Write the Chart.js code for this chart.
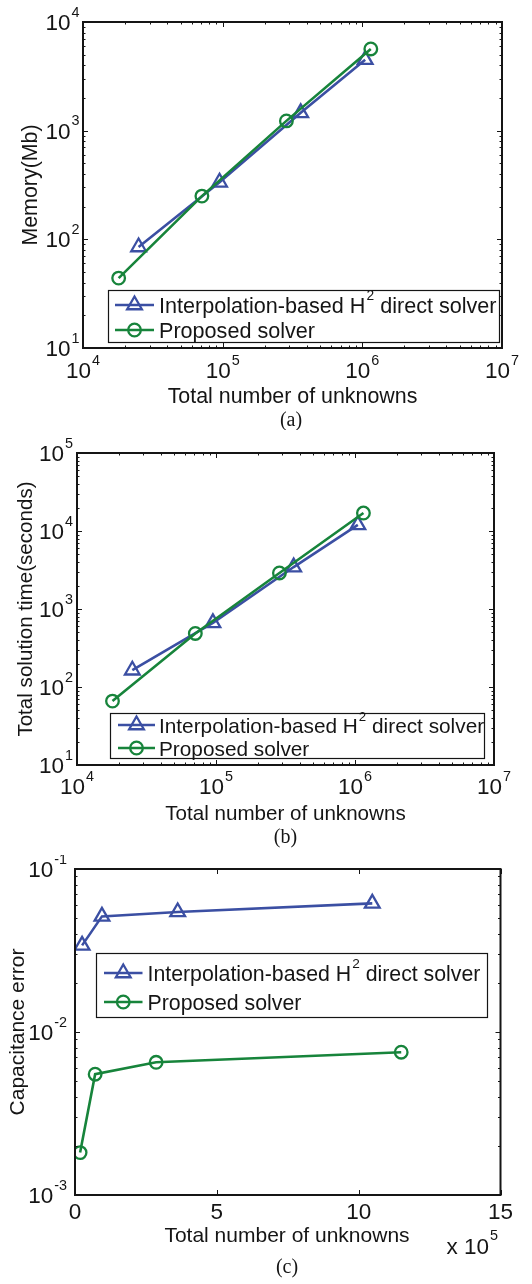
<!DOCTYPE html>
<html>
<head>
<meta charset="utf-8">
<script src="https://cdn.jsdelivr.net/npm/chart.js@4.4.1/dist/chart.umd.min.js"></script>
<style>
  html, body { margin: 0; padding: 0; background: #ffffff; }
  #wrap { position: relative; width: 532px; height: 1284px; }
  #wrap canvas { position: absolute; left: 0; }
</style>
</head>
<body>
<div id="wrap">
  <canvas id="memChart" width="532" height="430" style="top:0px"></canvas>
  <canvas id="timeChart" width="532" height="425" style="top:430px"></canvas>
  <canvas id="errChart" width="532" height="429" style="top:855px"></canvas>
</div>
<script>
// ---- data -------------------------------------------------------------
// Total number of unknowns of each test case
const unknownsH2 = [25000, 95000, 362000, 1048000];
const unknownsProposed = [18000, 71000, 286000, 1150000];

// Memory (Mb)
const memoryH2 = [85, 335, 1460, 4500];
const memoryProposed = [44, 250, 1230, 5650];

// Total solution time (seconds)
const timeH2 = [164, 665, 3450, 12000];
const timeProposed = [66, 486, 2900, 17000];

// Capacitance error
const errorH2 = [0.034, 0.0512, 0.0545, 0.0615];
const errorProposed = [0.00182, 0.00551, 0.00652, 0.00752];

const seriesNames = ['Interpolation-based H\u00B2 direct solver', 'Proposed solver'];

// Tick labels ("a^b" is drawn with b as a superscript)
const unknownsLogTickLabels = ['10^4', '10^5', '10^6', '10^7'];
const memoryTickLabels = ['10^1', '10^2', '10^3', '10^4'];
const timeTickLabels = ['10^1', '10^2', '10^3', '10^4', '10^5'];
const errorTickLabels = ['10^-3', '10^-2', '10^-1'];
const unknownsLinearTickLabels = ['0', '5', '10', '15'];
const unknownsLinearScaleLabel = 'x 10^5';
const unknownsLinearScale = 1e5;

// ---- styling ----------------------------------------------------------
const SANS = '"Liberation Sans", Arial, Helvetica, sans-serif';
const SERIF = '"Liberation Serif", "Times New Roman", serif';
const INK = '#151515';
const BLUE = '#3b4fa3';
const GREEN = '#17843b';
const TICK_FONT = 22.5;

function logValue(label) {
  const parts = label.split('^');
  return Math.pow(Number(parts[0]), Number(parts[1]));
}

function minorLogValues(decades) {
  const out = [];
  for (let i = 0; i < decades.length - 1; i++) {
    for (let m = 2; m <= 9; m++) out.push(decades[i] * m);
  }
  return out;
}

// draws "base^exp" with a raised, smaller exponent; y is the base's baseline
function drawPower(ctx, label, x, y, align, size) {
  const idx = label.indexOf('^');
  const base = idx < 0 ? label : label.slice(0, idx);
  const exp = idx < 0 ? null : label.slice(idx + 1);
  const expSize = size * 0.64;
  ctx.font = size + 'px ' + SANS;
  const wb = ctx.measureText(base).width;
  let we = 0;
  if (exp !== null) {
    ctx.font = expSize + 'px ' + SANS;
    we = ctx.measureText(exp).width + 1;
  }
  const w = wb + we;
  const x0 = align === 'right' ? x - w : (align === 'center' ? x - w / 2 : x);
  ctx.textAlign = 'left';
  ctx.textBaseline = 'alphabetic';
  ctx.fillStyle = INK;
  ctx.font = size + 'px ' + SANS;
  ctx.fillText(base, x0, y);
  if (exp !== null) {
    ctx.font = expSize + 'px ' + SANS;
    ctx.fillText(exp, x0 + wb + 1, y - size * 0.6);
  }
}

function drawMarker(ctx, style, x, y, r) {
  ctx.beginPath();
  if (style === 'triangle') {
    const a = 2 * Math.PI / 3;
    ctx.moveTo(x, y - r);
    ctx.lineTo(x + Math.sin(a) * r, y - Math.cos(a) * r);
    ctx.lineTo(x + Math.sin(2 * a) * r, y - Math.cos(2 * a) * r);
    ctx.closePath();
  } else {
    ctx.arc(x, y, r, 0, Math.PI * 2);
  }
  ctx.stroke();
}

// Box, inward ticks, tick labels, titles and legend drawn around the plot area
function axesPlugin(spec) {
  return {
    id: 'boxedAxes',
    afterDatasetsDraw(chart) {
      const ctx = chart.ctx;
      const xs = chart.scales.x, ys = chart.scales.y;
      const a = chart.chartArea;
      const top = spec.top;
      const lf = spec.legendFont;
      const tf = spec.titleFont;
      ctx.save();

      // legend
      const lg = spec.legend;
      ctx.fillStyle = '#ffffff';
      ctx.fillRect(lg.l, lg.t - top, lg.r - lg.l, lg.b - lg.t);
      ctx.strokeStyle = INK;
      ctx.lineWidth = 1.2;
      ctx.strokeRect(lg.l + 0.5, lg.t - top + 0.5, lg.r - lg.l, lg.b - lg.t);
      chart.data.datasets.forEach((ds, i) => {
        const ry = lg.rows[i] - top;
        ctx.strokeStyle = ds.borderColor;
        ctx.lineWidth = ds.borderWidth;
        ctx.beginPath();
        ctx.moveTo(lg.line[0], ry);
        ctx.lineTo(lg.line[1], ry);
        ctx.stroke();
        ctx.lineWidth = ds.pointBorderWidth;
        drawMarker(ctx, ds.pointStyle, (lg.line[0] + lg.line[1]) / 2, ry, ds.pointRadius);
        const parts = ds.label.split('\u00B2');
        const by = ry + 8;
        ctx.fillStyle = INK;
        ctx.textAlign = 'left';
        ctx.textBaseline = 'alphabetic';
        ctx.font = lf + 'px ' + SANS;
        let tx = lg.text;
        ctx.fillText(parts[0], tx, by);
        if (parts.length > 1) {
          tx += ctx.measureText(parts[0]).width;
          ctx.font = (lf * 0.64) + 'px ' + SANS;
          ctx.fillText('2', tx + 1, by - lf * 0.6);
          tx += ctx.measureText('2').width + 1;
          ctx.font = lf + 'px ' + SANS;
          ctx.fillText(parts[1], tx, by);
        }
      });

      // inward tick marks on all four sides
      ctx.strokeStyle = INK;
      ctx.lineWidth = 1;
      const major = 5, minor = 2.5;
      spec.xTicks.forEach(t => {
        const px = Math.round(xs.getPixelForValue(t.value)) + 0.5;
        const len = t.major ? major : minor;
        ctx.beginPath();
        ctx.moveTo(px, a.bottom); ctx.lineTo(px, a.bottom - len);
        ctx.moveTo(px, a.top); ctx.lineTo(px, a.top + len);
        ctx.stroke();
      });
      spec.yTicks.forEach(t => {
        const py = Math.round(ys.getPixelForValue(t.value)) + 0.5;
        const len = t.major ? major : minor;
        ctx.beginPath();
        ctx.moveTo(a.left, py); ctx.lineTo(a.left + len, py);
        ctx.moveTo(a.right, py); ctx.lineTo(a.right - len, py);
        ctx.stroke();
      });

      // axes box
      ctx.lineWidth = 2;
      ctx.strokeRect(a.left, a.top, a.right - a.left, a.bottom - a.top);

      // tick labels
      const capHalf = TICK_FONT * 0.358;
      spec.xLabels.forEach(l => {
        drawPower(ctx, l.text, xs.getPixelForValue(l.value), spec.xLabelMid - top + capHalf, 'center', TICK_FONT);
      });
      spec.yLabels.forEach(l => {
        drawPower(ctx, l.text, spec.yLabelRight, ys.getPixelForValue(l.value) + capHalf, 'right', TICK_FONT);
      });
      if (spec.xMultiplier) {
        drawPower(ctx, spec.xMultiplier.text, spec.xMultiplier.right, spec.xMultiplier.mid - top + capHalf, 'right', TICK_FONT);
      }

      // axis titles
      ctx.fillStyle = INK;
      ctx.font = tf + 'px ' + SANS;
      ctx.textAlign = 'center';
      ctx.textBaseline = 'alphabetic';
      ctx.fillText(spec.xTitle, spec.xTitlePos[0], spec.xTitlePos[1] - top + tf * 0.358);
      ctx.save();
      ctx.translate(spec.yTitleX, (a.top + a.bottom) / 2);
      ctx.rotate(-Math.PI / 2);
      ctx.fillText(spec.yTitle, 0, tf * 0.358);
      ctx.restore();

      // panel caption
      ctx.font = '20px ' + SERIF;
      ctx.fillText(spec.caption, spec.captionPos[0], spec.captionPos[1] - top + 20 * 0.27);
      ctx.restore();
    }
  };
}

function logTicks(labels) {
  const majors = labels.map(l => ({ value: logValue(l), major: true }));
  const minors = minorLogValues(majors.map(t => t.value)).map(v => ({ value: v, major: false }));
  return majors.concat(minors);
}

function makePanel(spec) {
  const canvas = document.getElementById(spec.canvas);
  const f = spec.frame;
  const toPoints = (xs, ys) => xs.map((x, i) => ({ x: x, y: ys[i] }));
  const xMin = spec.xLog ? logValue(spec.xTickLabels[0]) : Number(spec.xTickLabels[0]) * unknownsLinearScale;
  const xMax = spec.xLog ? logValue(spec.xTickLabels[spec.xTickLabels.length - 1])
                         : Number(spec.xTickLabels[spec.xTickLabels.length - 1]) * unknownsLinearScale;
  const yMin = logValue(spec.yTickLabels[0]);
  const yMax = logValue(spec.yTickLabels[spec.yTickLabels.length - 1]);

  spec.xTicks = spec.xLog ? logTicks(spec.xTickLabels)
    : spec.xTickLabels.map(l => ({ value: Number(l) * unknownsLinearScale, major: true }));
  spec.yTicks = logTicks(spec.yTickLabels);
  spec.xLabels = spec.xTickLabels.map(l => ({ text: l, value: spec.xLog ? logValue(l) : Number(l) * unknownsLinearScale }));
  spec.yLabels = spec.yTickLabels.map(l => ({ text: l, value: logValue(l) }));

  return new Chart(canvas, {
    type: 'line',
    data: {
      datasets: [
        {
          label: seriesNames[0],
          data: toPoints(unknownsH2, spec.h2),
          borderColor: BLUE,
          borderWidth: 2.6,
          pointStyle: 'triangle',
          pointRadius: 8.5,
          pointBorderWidth: 2.3,
          pointBorderColor: BLUE,
          pointBackgroundColor: 'rgba(0,0,0,0)',
          tension: 0,
          order: 2
        },
        {
          label: seriesNames[1],
          data: toPoints(unknownsProposed, spec.proposed),
          borderColor: GREEN,
          borderWidth: 2.6,
          pointStyle: 'circle',
          pointRadius: 6.3,
          pointBorderWidth: 2.3,
          pointBorderColor: GREEN,
          pointBackgroundColor: 'rgba(0,0,0,0)',
          tension: 0,
          order: 1
        }
      ]
    },
    options: {
      responsive: false,
      animation: false,
      devicePixelRatio: 1,
      events: [],
      layout: {
        autoPadding: false,
        padding: {
          left: f.l,
          top: f.t - spec.top,
          right: canvas.width - f.r,
          bottom: canvas.height - (f.b - spec.top)
        }
      },
      scales: {
        x: { type: spec.xLog ? 'logarithmic' : 'linear', display: false, min: xMin, max: xMax },
        y: { type: 'logarithmic', display: false, min: yMin, max: yMax }
      },
      plugins: {
        legend: { display: false },
        tooltip: { enabled: false }
      }
    },
    plugins: [axesPlugin(spec)]
  });
}

makePanel({
  canvas: 'memChart', top: 0,
  xLog: true, xTickLabels: unknownsLogTickLabels, yTickLabels: memoryTickLabels,
  h2: memoryH2, proposed: memoryProposed,
  frame: { l: 83, t: 22, r: 502, b: 348 },
  yLabelRight: 79.5, xLabelMid: 370,
  titleFont: 21.4, legendFont: 21.6,
  xTitle: 'Total number of unknowns', xTitlePos: [292.5, 395],
  yTitle: 'Memory(Mb)', yTitleX: 29.5,
  caption: '(a)', captionPos: [291, 421],
  legend: { l: 108, t: 290, r: 499, b: 342, rows: [305, 330], line: [115, 154], text: 159 }
});

makePanel({
  canvas: 'timeChart', top: 430,
  xLog: true, xTickLabels: unknownsLogTickLabels, yTickLabels: timeTickLabels,
  h2: timeH2, proposed: timeProposed,
  frame: { l: 77, t: 453, r: 494, b: 765 },
  yLabelRight: 73, xLabelMid: 786,
  titleFont: 20.6, legendFont: 20.8,
  xTitle: 'Total number of unknowns', xTitlePos: [285.5, 813],
  yTitle: 'Total solution time(seconds)', yTitleX: 24.5,
  caption: '(b)', captionPos: [285.5, 838],
  legend: { l: 110, t: 713, r: 484, b: 758, rows: [725, 748], line: [118, 155], text: 159 }
});

makePanel({
  canvas: 'errChart', top: 855,
  xLog: false, xTickLabels: unknownsLinearTickLabels, yTickLabels: errorTickLabels,
  h2: errorH2, proposed: errorProposed,
  frame: { l: 75, t: 869, r: 500.5, b: 1195 },
  yLabelRight: 67, xLabelMid: 1211,
  titleFont: 21, legendFont: 21.3,
  xMultiplier: { text: unknownsLinearScaleLabel, right: 498, mid: 1245.5 },
  xTitle: 'Total number of unknowns', xTitlePos: [287, 1234],
  yTitle: 'Capacitance error', yTitleX: 16.5,
  caption: '(c)', captionPos: [287, 1268],
  legend: { l: 96, t: 953, r: 487, b: 1017, rows: [973, 1002], line: [104, 142.5], text: 147.5 }
});
</script>
</body>
</html>
